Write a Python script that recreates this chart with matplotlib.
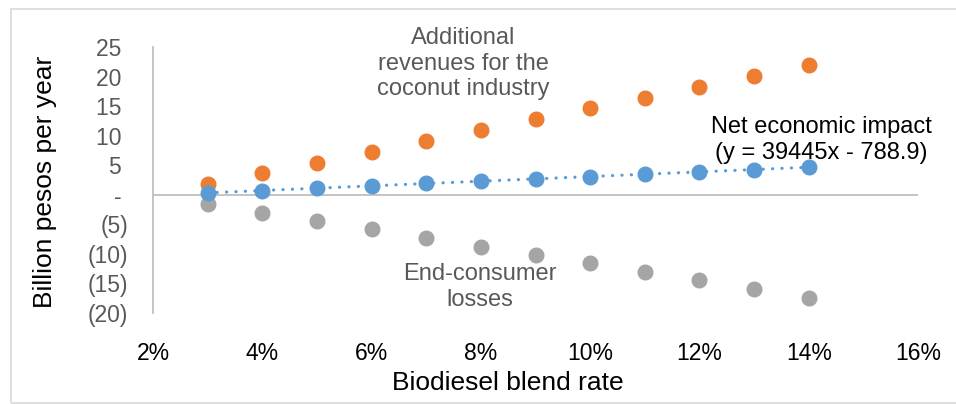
import numpy as np
import matplotlib
matplotlib.use("Agg")
import matplotlib.pyplot as plt
from matplotlib.ticker import FuncFormatter

plt.rcParams['font.family'] = ['Liberation Sans', 'DejaVu Sans']

blend_rate = [3, 4, 5, 6, 7, 8, 9, 10, 11, 12, 13, 14]  # percent
revenues = [1.75, 3.6, 5.4, 7.3, 9.15, 11.0, 12.8, 14.7, 16.4, 18.25, 20.1, 22.0]
losses = [-1.6, -3.0, -4.4, -5.8, -7.3, -8.8, -10.2, -11.6, -13.1, -14.5, -15.9, -17.5]
net_impact = [0.35, 0.72, 1.1, 1.5, 1.92, 2.28, 2.68, 3.07, 3.5, 3.9, 4.26, 4.65]

x_ticks = [2, 4, 6, 8, 10, 12, 14, 16]
y_ticks = [-20, -15, -10, -5, 0, 5, 10, 15, 20, 25]

orange = '#ED7D31'
blue = '#5B9BD5'
grey = '#A5A5A5'
txt_grey = '#595959'

W, H = 956, 404
fig = plt.figure(figsize=(W / 100, H / 100), dpi=100)
ax = fig.add_axes([153 / W, 1 - 313 / H, (918 - 153) / W, (313 - 47) / H])

ax.plot(blend_rate, revenues, 'o', color=orange, ms=10.5, zorder=3)
ax.plot(blend_rate, losses, 'o', color=grey, ms=10.5, zorder=3)
ax.plot(blend_rate, net_impact, 'o', color=blue, ms=10.5, zorder=4)

# linear trendline of net impact
fit = np.polyfit(blend_rate, net_impact, 1)
xs = np.array([blend_rate[0], blend_rate[-1]])
ax.plot(xs, np.polyval(fit, xs), color=blue, lw=2.3, ls=(0, (0.05, 2.9)),
        dash_capstyle='round', zorder=5)

ax.axhline(0, color='#BFBFBF', lw=1.3, zorder=1)

ax.set_xlim(2, 16)
ax.set_ylim(-20, 25)
ax.set_xticks(x_ticks)
ax.set_yticks(y_ticks)
ax.xaxis.set_major_formatter(FuncFormatter(lambda v, p: f"{v:.0f}%"))


def acct(v, p):
    if v == 0:
        return "- "
    if v < 0:
        return f"({-v:.0f})"
    return f"{v:.0f} "


ax.yaxis.set_major_formatter(FuncFormatter(acct))
ax.tick_params(axis='both', length=0, labelsize=16.5)
ax.tick_params(axis='y', pad=18, labelcolor=txt_grey)
ax.tick_params(axis='x', pad=21, labelcolor='black')

for s in ['top', 'right', 'bottom']:
    ax.spines[s].set_visible(False)
ax.spines['left'].set_color('#BFBFBF')
ax.spines['left'].set_linewidth(1.3)

ax.text(7.68, 22.2, "Additional\nrevenues for the\ncoconut industry", color=txt_grey,
        fontsize=17, ha='center', va='center', linespacing=1.2)
ax.text(14.23, 9.3, "Net economic impact\n(y = 39445x - 788.9)", color='black',
        fontsize=17, ha='center', va='center', linespacing=1.2, zorder=6)
ax.text(7.98, -15.6, "End-consumer\nlosses", color=txt_grey,
        fontsize=17, ha='center', va='center', linespacing=1.2)

fig.text(508 / W, 1 - 383 / H, "Biodiesel blend rate", fontsize=19,
         ha='center', va='center')
fig.text(45 / W, 1 - 182 / H, "Billion pesos per year", fontsize=19,
         ha='center', va='center', rotation=90)

# chart frame
fig.add_artist(plt.Rectangle((11 / W, 1 / H), 950 / W, 394 / H, transform=fig.transFigure,
                             fill=False, edgecolor='#D9D9D9', lw=1.2))

fig.savefig("out.png", dpi=100)
